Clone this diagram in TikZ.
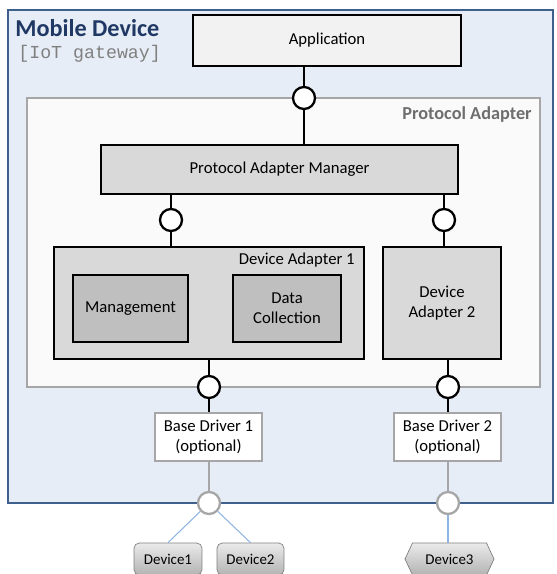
\documentclass[tikz,border=0pt]{standalone}
\usepackage{fontspec}
\setmainfont{Carlito}
\setmonofont{Liberation Mono}
\usetikzlibrary{shapes.symbols,positioning}
\definecolor{mdfill}{HTML}{E7EDF6}
\definecolor{mdline}{HTML}{3F5F8C}
\definecolor{mdtitle}{HTML}{1F3864}
\definecolor{paline}{HTML}{A6A6A6}
\definecolor{pafill}{HTML}{FAFAFA}
\definecolor{palabel}{HTML}{6E6E6E}
\definecolor{appfill}{HTML}{F2F2F2}
\definecolor{midgrey}{HTML}{D9D9D9}
\definecolor{darkgrey}{HTML}{BFBFBF}
\definecolor{devline}{HTML}{8EB4E3}

\begin{document}
\begin{tikzpicture}[x=0.02cm,y=-0.02cm,
    compbox/.style={rectangle, draw=black, line width=1pt, fill=midgrey,
                    align=center, font=\fontsize{9.5}{11.5}\selectfont, inner sep=0pt},
    drvbox/.style={rectangle, draw=paline, line width=1pt, fill=white,
                   align=center, font=\fontsize{9.5}{11.5}\selectfont, inner sep=0pt,
                   minimum width=2.14cm, minimum height=0.96cm},
    port/.style={circle, draw=black, line width=1.3pt, fill=white,
                 minimum size=0.44cm, inner sep=0pt},
    gport/.style={port, draw=paline},
    devbox/.style={draw=gray, top color=white!92!black, bottom color=white!70!black,
                   font=\fontsize{8.5}{10}\selectfont, inner sep=0pt, minimum height=0.64cm},
    link/.style={draw=black, line width=1.3pt},
    glink/.style={draw=paline, line width=1.3pt},
    dlink/.style={draw=devline, line width=0.6pt},
]
\useasboundingbox (0,0) rectangle (557,574);

% gateway and the adapter frame
\node[rectangle, draw=mdline, line width=1pt, fill=mdfill,
      minimum width=10.9cm, minimum height=9.86cm] (mobile) at (280.5,256.5) {};
\node[anchor=north west, text=mdtitle, font=\fontsize{13.8}{16}\selectfont\bfseries, inner sep=0pt] (mtitle) at (15,19) {Mobile Device};
\node[anchor=north west, text=gray, font=\ttfamily\fontsize{10.4}{12}\selectfont, inner sep=0pt] (msub) at (18,45) {[IoT gateway]};

\node[rectangle, draw=paline, line width=1pt, fill=pafill,
      minimum width=10.26cm, minimum height=5.78cm] (pa) at (283.5,242.5) {};
\node[anchor=north east, text=palabel, font=\fontsize{10.4}{12}\selectfont\bfseries, inner sep=0pt] (patitle) at (532,106) {Protocol Adapter};

% components
\node[compbox, fill=appfill, line width=1.5pt, minimum width=5.36cm, minimum height=1.02cm] (app) at (327,40.5) {Application};
\node[compbox, minimum width=7.14cm, minimum height=0.98cm] (pam) at (279.5,169.5) {Protocol Adapter Manager};

\node[compbox, minimum width=6.2cm, minimum height=2.24cm] (da1) at (209,303) {};
\node[anchor=north east, font=\fontsize{9.5}{11.5}\selectfont, inner sep=0pt] (da1title) at (355,253) {Device Adapter 1};
\node[compbox, fill=darkgrey, minimum width=2.3cm, minimum height=1.34cm] (mgmt) at (130.5,308.5) {Management};
\node[compbox, fill=darkgrey, minimum width=2.16cm, minimum height=1.34cm] (dcoll) at (287,308.5) {Data\\Collection};
\node[compbox, minimum width=2.36cm, minimum height=2.24cm] (da2) at (442,303) {Device\\Adapter 2};

\node[drvbox] (bd1) at (208.5,437) {Base Driver 1\\(optional)};
\node[drvbox] (bd2) at (447.5,437) {Base Driver 2\\(optional)};

\node[devbox, rounded corners=3pt, minimum width=1.36cm] (dev1) at (168,559) {Device1};
\node[devbox, rounded corners=3pt, minimum width=1.34cm] (dev2) at (250.5,559) {Device2};
\node[devbox, signal, signal to=west and east, signal pointer angle=130,
      minimum width=1.78cm] (dev3) at (449.5,559) {Device3};

% interfaces
\node[port] (p0) at (304,98) {};
\node[port] (p1) at (171,220) {};
\node[port] (p2) at (444,220) {};
\node[port] (p3) at (209,387) {};
\node[port] (p4) at (448,387) {};
\node[gport] (g1) at (209,503) {};
\node[gport] (g2) at (448,503) {};

% connectors
\draw[link] (p0) -- (p0 |- app.south);
\draw[link] (p0) -- (p0 |- pam.north);
\draw[link] (p1) -- (p1 |- pam.south);
\draw[link] (p1) -- (p1 |- da1.north);
\draw[link] (p2) -- (p2 |- pam.south);
\draw[link] (p2) -- (p2 |- da2.north);
\draw[link] (p3) -- (p3 |- da1.south);
\draw[link] (p3) -- (p3 |- bd1.north);
\draw[link] (p4) -- (p4 |- da2.south);
\draw[link] (p4) -- (p4 |- bd2.north);
\draw[glink] (g1) -- (g1 |- bd1.south);
\draw[glink] (g2) -- (g2 |- bd2.south);
\draw[dlink] (g1) -- (dev1.north);
\draw[dlink] (g1) -- (dev2.north);
\draw[dlink] (g2) -- (g2 |- dev3.north);

\end{tikzpicture}
\end{document}
